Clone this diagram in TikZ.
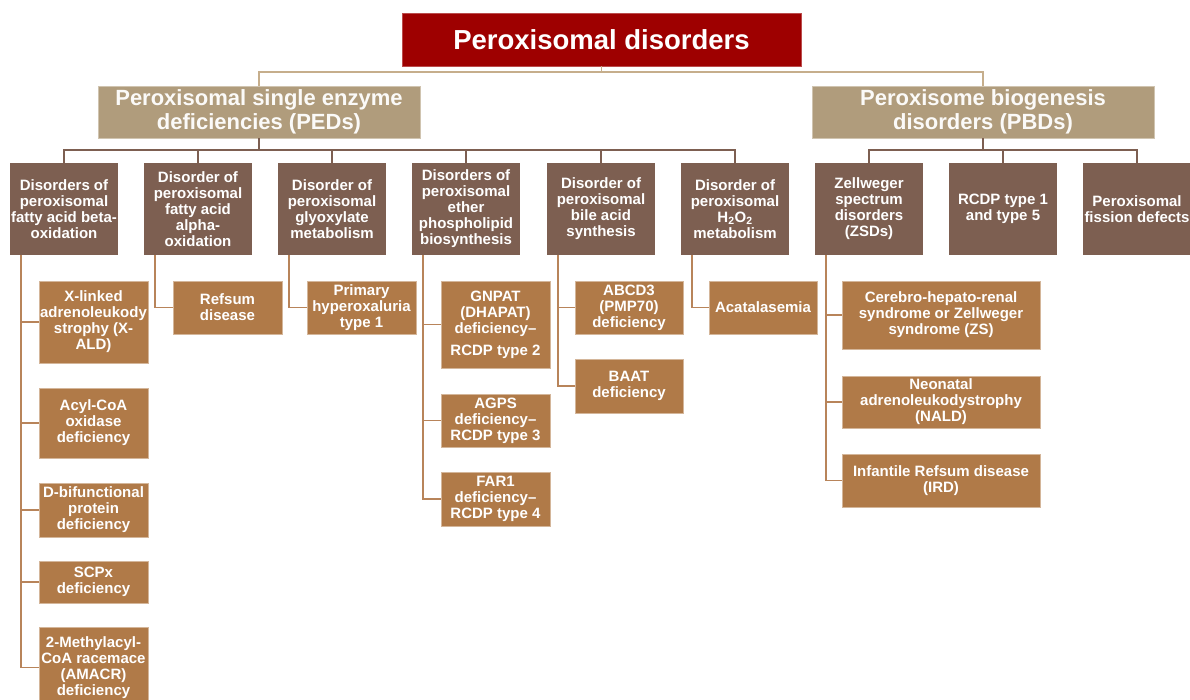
\documentclass[tikz,border=0pt]{standalone}
\usepackage{fontspec}
\setmainfont{Liberation Sans}
\usetikzlibrary{positioning,calc}
\definecolor{titlered}{HTML}{9E0000}
\definecolor{grouptan}{HTML}{B09C7C}
\definecolor{catbrown}{HTML}{7D5F51}
\definecolor{leafbrown}{HTML}{B07A48}
\definecolor{topline}{HTML}{C6AE8C}
\definecolor{leafline}{HTML}{B8845A}

\begin{document}
\begin{tikzpicture}[x=1pt,y=-1pt,
  box/.style={inner sep=0pt,align=center,text=white,font=\bfseries\fontsize{15}{16}\selectfont},
  titlebox/.style={box,fill=titlered,draw=titlered!70!white,minimum width=399pt,minimum height=53pt,font=\bfseries\fontsize{27.5}{30}\selectfont},
  groupbox/.style={box,fill=grouptan,draw=grouptan!60!white,minimum height=52pt,text=white!95!grouptan,font=\bfseries\fontsize{22}{24}\selectfont},
  catbox/.style={box,fill=catbrown,minimum width=108pt,minimum height=92pt},
  leafbox/.style={box,fill=leafbrown,draw=leafbrown!55!white,line width=0.6pt},
  toplink/.style={draw=topline,line width=1.4pt},
  catlink/.style={draw=catbrown,line width=1.4pt},
  leaflink/.style={draw=leafline,line width=1.8pt}]
\useasboundingbox (0,0) rectangle (1190,700);

\node[titlebox] (pd) at (601.5,39.5) {Peroxisomal disorders};
\node[groupbox,minimum width=322pt] (ped) at (259,112) {Peroxisomal single enzyme\\deficiencies (PEDs)};
\node[groupbox,minimum width=342pt] (pbd) at (983,112) {Peroxisome biogenesis\\disorders (PBDs)};

% disorder groups
\node[catbox] (fao) at (64,209) {Disorders of\\peroxisomal\\fatty acid beta-\\oxidation};
\node[catbox] (alpha) at (198,209) {Disorder of\\peroxisomal\\fatty acid\\alpha-\\oxidation};
\node[catbox] (glyox) at (332,209) {Disorder of\\peroxisomal\\glyoxylate\\metabolism};
\node[catbox] (ether) at (466,209) {Disorders of\\peroxisomal\\ether\\phospholipid\\biosynthesis};
\node[catbox] (bile) at (601,209) {Disorder of\\peroxisomal\\bile acid\\synthesis};
\node[catbox] (hoo) at (735,209) {Disorder of\\peroxisomal\\H\textsubscript{2}O\textsubscript{2}\\metabolism};
\node[catbox] (zsd) at (869,209) {Zellweger\\spectrum\\disorders\\(ZSDs)};
\node[catbox] (rcdp) at (1003,209) {RCDP type 1\\and type 5};
\node[catbox] (fis) at (1137,209) {Peroxisomal\\fission defects};

% single disorders
\node[leafbox,minimum width=109pt,minimum height=82pt] (xald) at (93.5,322) {X-linked\\adrenoleukody\\strophy (X-\\ALD)};
\node[leafbox,minimum width=109pt,minimum height=70pt] (acox) at (93.5,423) {Acyl-CoA\\oxidase\\deficiency};
\node[leafbox,minimum width=109pt,minimum height=54pt] (dbp) at (93.5,510) {D-bifunctional\\protein\\deficiency};
\node[leafbox,minimum width=109pt,minimum height=42pt] (scpx) at (93.5,582) {SCPx\\deficiency};
\node[leafbox,minimum width=109pt,minimum height=81pt] (amacr) at (93.5,667.5) {2-Methylacyl-\\CoA racemace\\(AMACR)\\deficiency};
\node[leafbox,minimum width=109pt,minimum height=53pt] (refsum) at (227.5,307.5) {Refsum\\disease};
\node[leafbox,minimum width=109pt,minimum height=53pt] (ph1) at (361.5,307.5) {Primary\\hyperoxaluria\\type 1};
\node[leafbox,minimum width=109pt,minimum height=87pt] (gnpat) at (495.5,324.5) {GNPAT\\(DHAPAT)\\deficiency--\\[6pt]RCDP type 2};
\node[leafbox,minimum width=109pt,minimum height=53pt] (agps) at (495.5,420.5) {AGPS\\deficiency--\\RCDP type 3};
\node[leafbox,minimum width=109pt,minimum height=54pt] (far) at (495.5,499) {FAR1\\deficiency--\\RCDP type 4};
\node[leafbox,minimum width=108pt,minimum height=53pt] (abcd) at (629,307.5) {ABCD3\\(PMP70)\\deficiency};
\node[leafbox,minimum width=108pt,minimum height=54pt] (baat) at (629,386) {BAAT\\deficiency};
\node[leafbox,minimum width=108pt,minimum height=53pt] (acat) at (763,307.5) {Acatalasemia};
\node[leafbox,minimum width=198pt,minimum height=68pt] (zs) at (941,315) {Cerebro-hepato-renal\\syndrome or Zellweger\\syndrome (ZS)};
\node[leafbox,minimum width=198pt,minimum height=52pt] (nald) at (941,402) {Neonatal\\adrenoleukodystrophy\\(NALD)};
\node[leafbox,minimum width=198pt,minimum height=53pt] (ird) at (941,480.5) {Infantile Refsum disease\\(IRD)};

% links
\draw[toplink] (pd.south) -- ++(0,6) coordinate (pj);
\draw[toplink] (pj) -| (ped.north);
\draw[toplink] (pj) -| (pbd.north);
\draw[catlink] (ped.south) -- ++(0,12) coordinate (pedj);
\draw[catlink] (pbd.south) -- ++(0,12) coordinate (pbdj);
\foreach \c in {fao,alpha,glyox,ether,bile,hoo}
  \draw[catlink] (pedj) -| (\c.north);
\foreach \c in {zsd,rcdp,fis}
  \draw[catlink] (pbdj) -| (\c.north);

\foreach \c/\l in {fao/xald,fao/acox,fao/dbp,fao/scpx,fao/amacr,alpha/refsum,glyox/ph1,
    ether/gnpat,ether/agps,ether/far,bile/abcd,bile/baat,hoo/acat,zsd/zs,zsd/nald,zsd/ird}
  \draw[leaflink] ([xshift=11pt]\c.south west) |- (\l.west);
\end{tikzpicture}
\end{document}
